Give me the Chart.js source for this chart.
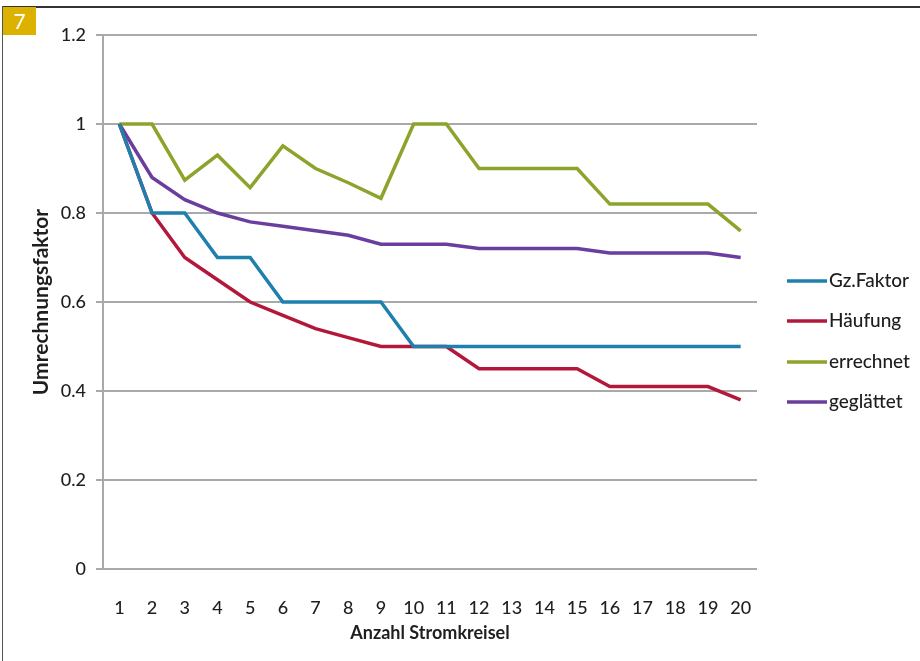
<!DOCTYPE html>
<html>
<head>
<meta charset="utf-8">
<script src="https://cdn.jsdelivr.net/npm/chart.js@4/dist/chart.umd.min.js"></script>
<style>
  html, body { margin: 0; padding: 0; background: #fff; }
  #wrap { position: relative; width: 920px; height: 661px; }
  #frameTop { position: absolute; left: 3px; top: 6px; right: 0; height: 2px; background: #333; }
  #frameLeft { position: absolute; left: 2px; top: 6px; bottom: 0; width: 1px; background: #555; }
  #badge { position: absolute; left: 3px; top: 7px; width: 33px; height: 28px; background: #ddb100;
           color: #fff; font: 21px Lato, sans-serif; text-align: center; line-height: 28px; }
  canvas { position: absolute; left: 0; top: 0; }
</style>
</head>
<body>
<div id="wrap">
  <canvas id="chart" width="920" height="661"></canvas>
  <div id="frameTop"></div>
  <div id="frameLeft"></div>
  <div id="badge">7</div>
</div>
<script>
// data
var categories = ["1","2","3","4","5","6","7","8","9","10","11","12","13","14","15","16","17","18","19","20"];
var gzFaktor  = [1, 0.8, 0.8, 0.7, 0.7, 0.6, 0.6, 0.6, 0.6, 0.5, 0.5, 0.5, 0.5, 0.5, 0.5, 0.5, 0.5, 0.5, 0.5, 0.5];
var haeufung  = [1, 0.8, 0.7, 0.65, 0.6, 0.57, 0.54, 0.52, 0.5, 0.5, 0.5, 0.45, 0.45, 0.45, 0.45, 0.41, 0.41, 0.41, 0.41, 0.38];
var errechnet = [1, 1, 0.874, 0.93, 0.857, 0.951, 0.9, 0.868, 0.833, 1, 1, 0.9, 0.9, 0.9, 0.9, 0.82, 0.82, 0.82, 0.82, 0.76];
var geglaettet = [1, 0.88, 0.83, 0.8, 0.78, 0.77, 0.76, 0.75, 0.73, 0.73, 0.73, 0.72, 0.72, 0.72, 0.72, 0.71, 0.71, 0.71, 0.71, 0.70];
var seriesNames = ["Gz.Faktor", "Häufung", "errechnet", "geglättet"];
var seriesColors = ["#1f80ad", "#b3183b", "#8ca42c", "#6a3e9e"];
var yTicks = [0, 0.2, 0.4, 0.6, 0.8, 1, 1.2];
var yTickLabels = ["0", "0.2", "0.4", "0.6", "0.8", "1", "1.2"];

var font = "Lato, 'Open Sans', sans-serif";
var textColor = "#1e1e1e";

function ds(i, values) {
    return {
        label: seriesNames[i],
        data: values,
        borderColor: seriesColors[i],
        backgroundColor: seriesColors[i],
        borderWidth: 3.5,
        pointRadius: 0,
        tension: 0,
        fill: false
    };
}

// own legend, drawn to the right of the plot
var sideLegend = {
    id: "sideLegend",
    afterDraw: function (chart) {
        var ctx = chart.ctx;
        var rows = [281, 321, 362, 402];
        ctx.save();
        ctx.font = "500 19px " + font;
        ctx.textBaseline = "middle";
        ctx.fillStyle = textColor;
        chart.data.datasets.forEach(function (d, i) {
            ctx.strokeStyle = d.borderColor;
            ctx.lineWidth = 3.5;
            ctx.beginPath();
            ctx.moveTo(787, rows[i]);
            ctx.lineTo(827, rows[i]);
            ctx.stroke();
            ctx.fillText(d.label, 829, rows[i]);
        });
        ctx.restore();
    }
};

new Chart(document.getElementById("chart").getContext("2d"), {
    type: "line",
    data: {
        labels: categories,
        datasets: [ds(0, gzFaktor), ds(1, haeufung), ds(2, errechnet), ds(3, geglaettet)]
    },
    options: {
        responsive: false,
        animation: false,
        layout: { padding: { left: 0, top: 35, right: 163, bottom: 0 } },
        plugins: { legend: { display: false }, tooltip: { enabled: false } },
        scales: {
            x: {
                offset: true,
                grid: { display: false },
                border: { display: false },
                ticks: { color: textColor, font: { family: font, size: 18, weight: "500" }, padding: 20, maxRotation: 0, autoSkip: false },
                title: { display: true, text: "Anzahl Stromkreisel", color: textColor,
                         font: { family: font, size: 18, weight: "bold" }, padding: { top: 17, bottom: 17 } },
                afterFit: function (s) { s.height = 661 - 569; }
            },
            y: {
                min: 0,
                max: 1.2,
                afterBuildTicks: function (s) { s.ticks = yTicks.map(function (v) { return { value: v }; }); },
                grid: { color: "#a9a9a9", lineWidth: 2, tickLength: 7 },
                border: { display: true, color: "#a9a9a9", width: 2 },
                ticks: { color: textColor, font: { family: font, size: 18, weight: "500" }, padding: 10,
                         callback: function (v, i) { return yTickLabels[i]; } },
                title: { display: true, text: "Umrechnungsfaktor", color: textColor,
                         font: { family: font, size: 21, weight: "bold" }, padding: { top: 29, bottom: 29 } },
                afterFit: function (s) { s.width = 103; }
            }
        }
    },
    plugins: [sideLegend]
});
</script>
</body>
</html>
